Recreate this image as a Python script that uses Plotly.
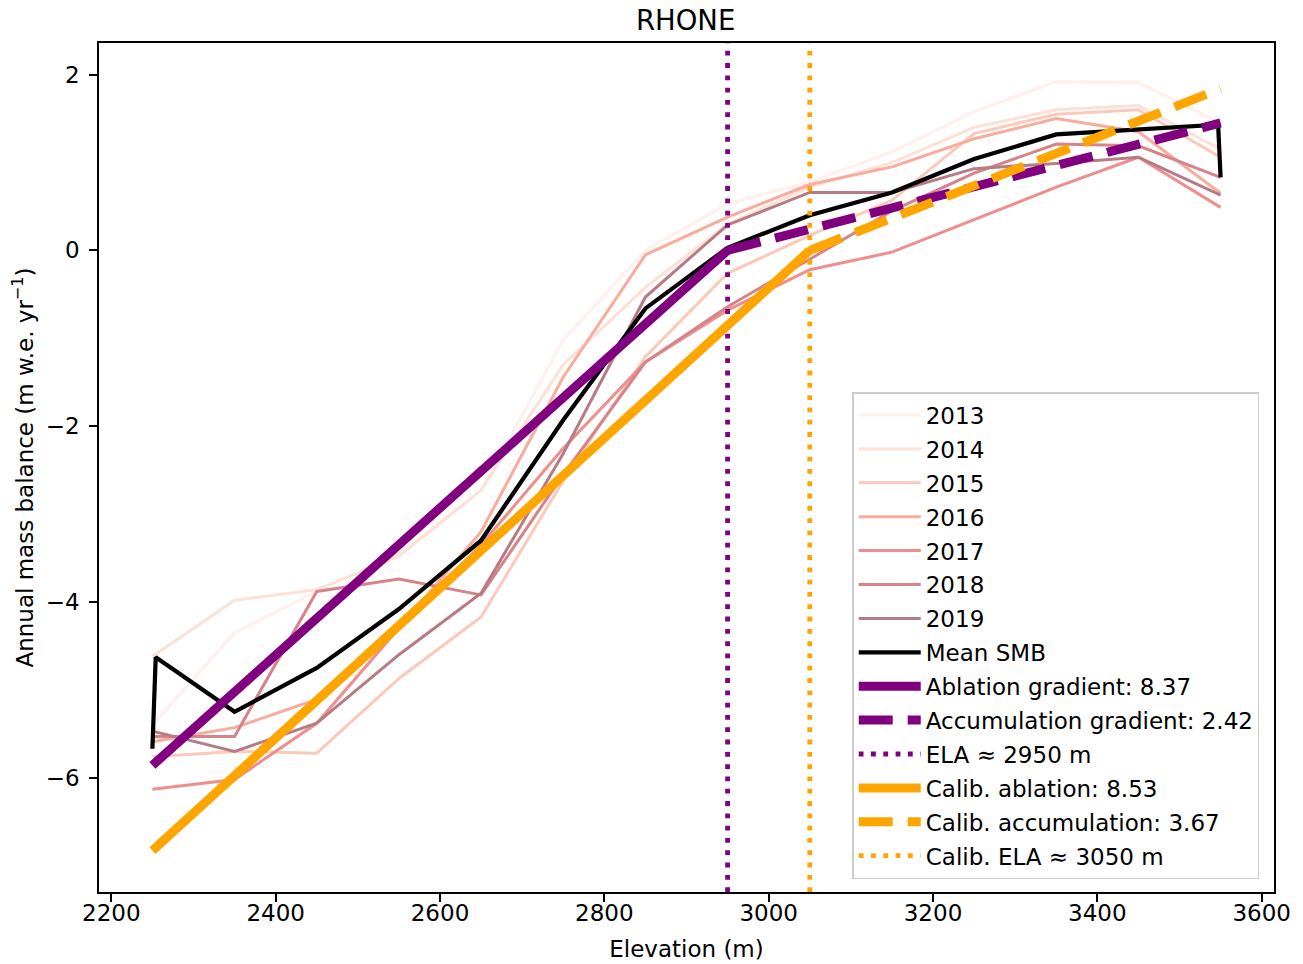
import plotly.graph_objects as go

# ---------------- data ----------------
elevations = [2250, 2350, 2450, 2550, 2650, 2750, 2850, 2950, 3050, 3150, 3250, 3350, 3450, 3550]

years = ["2013", "2014", "2015", "2016", "2017", "2018", "2019"]
smb_2013 = [-5.40, -4.35, -3.88, -3.45, -2.73, -1.02, 0.00, 0.53, 0.78, 1.12, 1.58, 1.92, 1.91, 1.45]
smb_2014 = [-4.62, -3.98, -3.86, -3.48, -2.73, -1.30, -0.42, 0.30, 0.72, 1.00, 1.40, 1.60, 1.65, 1.15]
smb_2015 = [-5.76, -5.70, -5.72, -4.87, -4.17, -2.62, -1.21, -0.26, 0.17, 0.57, 1.33, 1.55, 1.60, 1.06]
smb_2016 = [-5.59, -5.43, -5.11, -4.30, -3.20, -1.44, -0.05, 0.38, 0.75, 0.95, 1.27, 1.50, 1.35, 0.65]
smb_2017 = [-6.13, -6.02, -5.38, -4.30, -3.35, -2.25, -1.27, -0.68, -0.22, -0.02, 0.35, 0.72, 1.06, 0.49]
smb_2018 = [-5.53, -5.53, -3.88, -3.74, -3.92, -2.55, -1.27, -0.64, -0.10, 0.45, 0.88, 1.21, 1.19, 0.83]
smb_2019 = [-5.47, -5.70, -5.38, -4.60, -3.90, -2.31, -0.53, 0.29, 0.66, 0.66, 0.93, 0.99, 1.06, 0.63]
year_smb = [smb_2013, smb_2014, smb_2015, smb_2016, smb_2017, smb_2018, smb_2019]
year_colors = ["#fff0ec", "#fde0d6", "#fcc9b9", "#f9ab9c", "#ec8f8d", "#d6838a", "#b77b84"]

mean_elev = [2250, 2254, 2350, 2450, 2550, 2650, 2750, 2850, 2950, 3050, 3150, 3250, 3350, 3450, 3547, 3550]
mean_smb = [-5.67, -4.63, -5.25, -4.75, -4.08, -3.30, -1.93, -0.66, 0.03, 0.40, 0.66, 1.04, 1.32, 1.38, 1.43, 0.83]

ela = 2950
ablation_x = [2250, 2950]
ablation_y = [-5.86, 0.0]
accumulation_x = [2950, 3550]
accumulation_y = [0.0, 1.45]

calib_ela = 3050
calib_ablation_x = [2250, 3050]
calib_ablation_y = [-6.83, 0.0]
calib_accumulation_x = [3050, 3550]
calib_accumulation_y = [0.0, 1.84]

x_ticks = [2200, 2400, 2600, 2800, 3000, 3200, 3400, 3600]
y_ticks = [-6, -4, -2, 0, 2]
XRANGE = [2185, 3615]
YRANGE = [-7.30, 2.36]

PURPLE = "#800080"
ORANGE = "#ffa500"

# ---------------- figure ----------------
fig = go.Figure()

for name, vals, col in zip(years, year_smb, year_colors):
    fig.add_trace(go.Scatter(x=elevations, y=vals, mode="lines", name=name,
                             legendgroup=name,
                             line=dict(color=col, width=3.0)))

fig.add_trace(go.Scatter(x=mean_elev, y=mean_smb, mode="lines", name="Mean SMB",
                         legendgroup="mean", line=dict(color="black", width=4.2)))

fig.add_trace(go.Scatter(x=ablation_x, y=ablation_y, mode="lines",
                         name="Ablation gradient: 8.37", legendgroup="abl",
                         line=dict(color=PURPLE, width=9)))
fig.add_trace(go.Scatter(x=accumulation_x, y=accumulation_y, mode="lines",
                         name="Accumulation gradient: 2.42", legendgroup="acc",
                         line=dict(color=PURPLE, width=9, dash="34px,15px")))
fig.add_trace(go.Scatter(x=[ela, ela], y=YRANGE, mode="lines",
                         name="ELA ≈ 2950 m", legendgroup="ela",
                         line=dict(color=PURPLE, width=4.8, dash="4.8px,7.5px")))

fig.add_trace(go.Scatter(x=calib_ablation_x, y=calib_ablation_y, mode="lines",
                         name="Calib. ablation: 8.53", legendgroup="cabl",
                         line=dict(color=ORANGE, width=9)))
fig.add_trace(go.Scatter(x=calib_accumulation_x, y=calib_accumulation_y, mode="lines",
                         name="Calib. accumulation: 3.67", legendgroup="cacc",
                         line=dict(color=ORANGE, width=9, dash="34px,15px")))
fig.add_trace(go.Scatter(x=[calib_ela, calib_ela], y=YRANGE, mode="lines",
                         name="Calib. ELA ≈ 3050 m", legendgroup="cela",
                         line=dict(color=ORANGE, width=4.8, dash="4.8px,7.5px")))

FONT = "DejaVu Sans"
FS = 23

fig.update_layout(
    width=1303, height=964,
    paper_bgcolor="white", plot_bgcolor="white",
    margin=dict(l=98.5, r=28.5, t=43, b=71.5, autoexpand=False),
    font=dict(family=FONT, size=FS, color="black"),
    title=dict(text="RHONE", x=0.5262, xanchor="center", y=0.979, yanchor="middle",
               font=dict(family=FONT, size=27.5, color="black")),
    showlegend=True,
    legend=dict(x=0.9876, xanchor="right", y=0.015, yanchor="bottom",
                bgcolor="rgba(255,255,255,0.8)", bordercolor="#cccccc", borderwidth=1.3,
                font=dict(family=FONT, size=FS, color="black"),
                tracegroupgap=1, itemwidth=62, traceorder="grouped"),
)

fig.update_xaxes(range=XRANGE, tickmode="array", tickvals=x_ticks,
                 ticks="outside", ticklen=8, tickwidth=1.6, tickcolor="black",
                 showline=True, linecolor="black", linewidth=1.6, mirror=True,
                 showgrid=False, zeroline=False, ticklabelstandoff=-8,
                 tickfont=dict(family=FONT, size=FS),
                 title=dict(text="Elevation (m)", font=dict(family=FONT, size=FS), standoff=15))
fig.update_yaxes(range=YRANGE, tickmode="array", tickvals=y_ticks,
                 ticks="outside", ticklen=8, tickwidth=1.6, tickcolor="black",
                 showline=True, linecolor="black", linewidth=1.6, mirror=True,
                 showgrid=False, zeroline=False, ticklabelstandoff=5,
                 tickfont=dict(family=FONT, size=FS),
                 title=dict(text="Annual mass balance (m w.e. yr<sup>−1</sup>)",
                            font=dict(family=FONT, size=FS), standoff=6))

fig.write_html("out.html", config={"displayModeBar": False},
               post_script="document.body.style.margin='0';")
